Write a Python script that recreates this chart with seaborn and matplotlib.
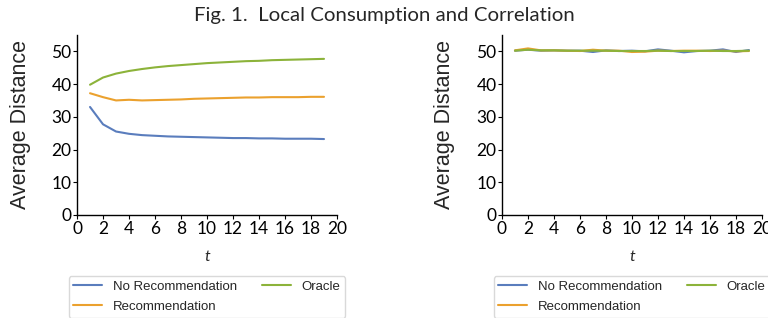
import pandas as pd
import seaborn as sns
import matplotlib.pyplot as plt

t = list(range(1, 20))

# left panel
left_no_rec = [33.0, 27.7, 25.5, 24.8, 24.4, 24.2, 24.0, 23.9, 23.8, 23.7,
               23.6, 23.5, 23.5, 23.4, 23.4, 23.3, 23.3, 23.3, 23.2]
left_rec = [37.2, 36.0, 35.0, 35.2, 35.0, 35.1, 35.2, 35.3, 35.5, 35.6,
            35.7, 35.8, 35.9, 35.9, 36.0, 36.0, 36.0, 36.1, 36.1]
left_oracle = [39.8, 42.0, 43.2, 44.0, 44.6, 45.1, 45.5, 45.8, 46.1, 46.4,
               46.6, 46.8, 47.0, 47.1, 47.3, 47.4, 47.5, 47.6, 47.7]

# right panel
right_no_rec = [50.2, 50.5, 50.2, 50.3, 50.2, 50.2, 49.8, 50.3, 50.1, 50.2,
                50.0, 50.6, 50.2, 49.7, 50.1, 50.2, 50.6, 49.8, 50.4]
right_rec = [50.3, 50.9, 50.3, 50.3, 50.2, 50.1, 50.5, 50.2, 50.2, 49.8,
             49.9, 50.2, 50.1, 50.2, 50.2, 50.1, 50.2, 50.0, 50.1]
right_oracle = [50.2, 50.5, 50.3, 50.3, 50.2, 50.2, 50.2, 50.2, 50.1, 50.1,
                50.1, 50.2, 50.1, 50.1, 50.1, 50.2, 50.1, 50.1, 50.2]

series = ["No Recommendation", "Recommendation", "Oracle"]
colors = ["#5a7dbd", "#eba12e", "#8cb33a"]
xticks = list(range(0, 21, 2))
yticks = list(range(0, 51, 10))


def make_df(no_rec, rec, oracle):
    return pd.DataFrame({
        "t": t * 3,
        "value": no_rec + rec + oracle,
        "method": [series[0]] * len(t) + [series[1]] * len(t) + [series[2]] * len(t),
    })


sns.set_theme(style="ticks")
plt.rcParams['font.family'] = ['Lato', 'DejaVu Sans']

fig = plt.figure(figsize=(7.68, 3.18), dpi=100)
ax1 = fig.add_axes([0.1003, 0.324, 0.3385, 0.566])
ax2 = fig.add_axes([0.6536, 0.324, 0.3385, 0.566])

panels = [(ax1, make_df(left_no_rec, left_rec, left_oracle)),
          (ax2, make_df(right_no_rec, right_rec, right_oracle))]

for ax, df in panels:
    sns.lineplot(data=df, x="t", y="value", hue="method", palette=colors,
                 hue_order=series, linewidth=1.5, ax=ax, legend=True)
    ax.set_xlim(0, 20)
    ax.set_ylim(0, 55)
    ax.set_xticks(xticks)
    ax.set_yticks(yticks)
    ax.tick_params(labelsize=12.5, length=3, width=0.8, colors='black', pad=1)
    for lab in ax.get_xticklabels() + ax.get_yticklabels():
        lab.set_fontfamily('Lato')
    ax.set_xlabel("t", fontsize=11.5, style='italic', labelpad=10, family='Lato')
    ax.set_ylabel("Average Distance", fontsize=15.5, family='Liberation Sans', labelpad=15)
    for s in ['left', 'bottom']:
        ax.spines[s].set_color('black')
        ax.spines[s].set_linewidth(1.0)
    sns.despine(ax=ax)
    h, l = ax.get_legend_handles_labels()
    ax.legend(h, l, ncol=2, loc='upper center', bbox_to_anchor=(0.5, -0.339),
              borderaxespad=0,
              prop={'family': 'Liberation Sans', 'size': 9.5}, frameon=True,
              handlelength=2.2, handletextpad=0.8, columnspacing=1.9,
              labelspacing=0.6, borderpad=0.35, edgecolor='#d0d0d0')

fig.suptitle("Fig. 1.  Local Consumption and Correlation", fontsize=14.7,
             family='Lato', y=0.978)

plt.savefig("out.png", dpi=100)
